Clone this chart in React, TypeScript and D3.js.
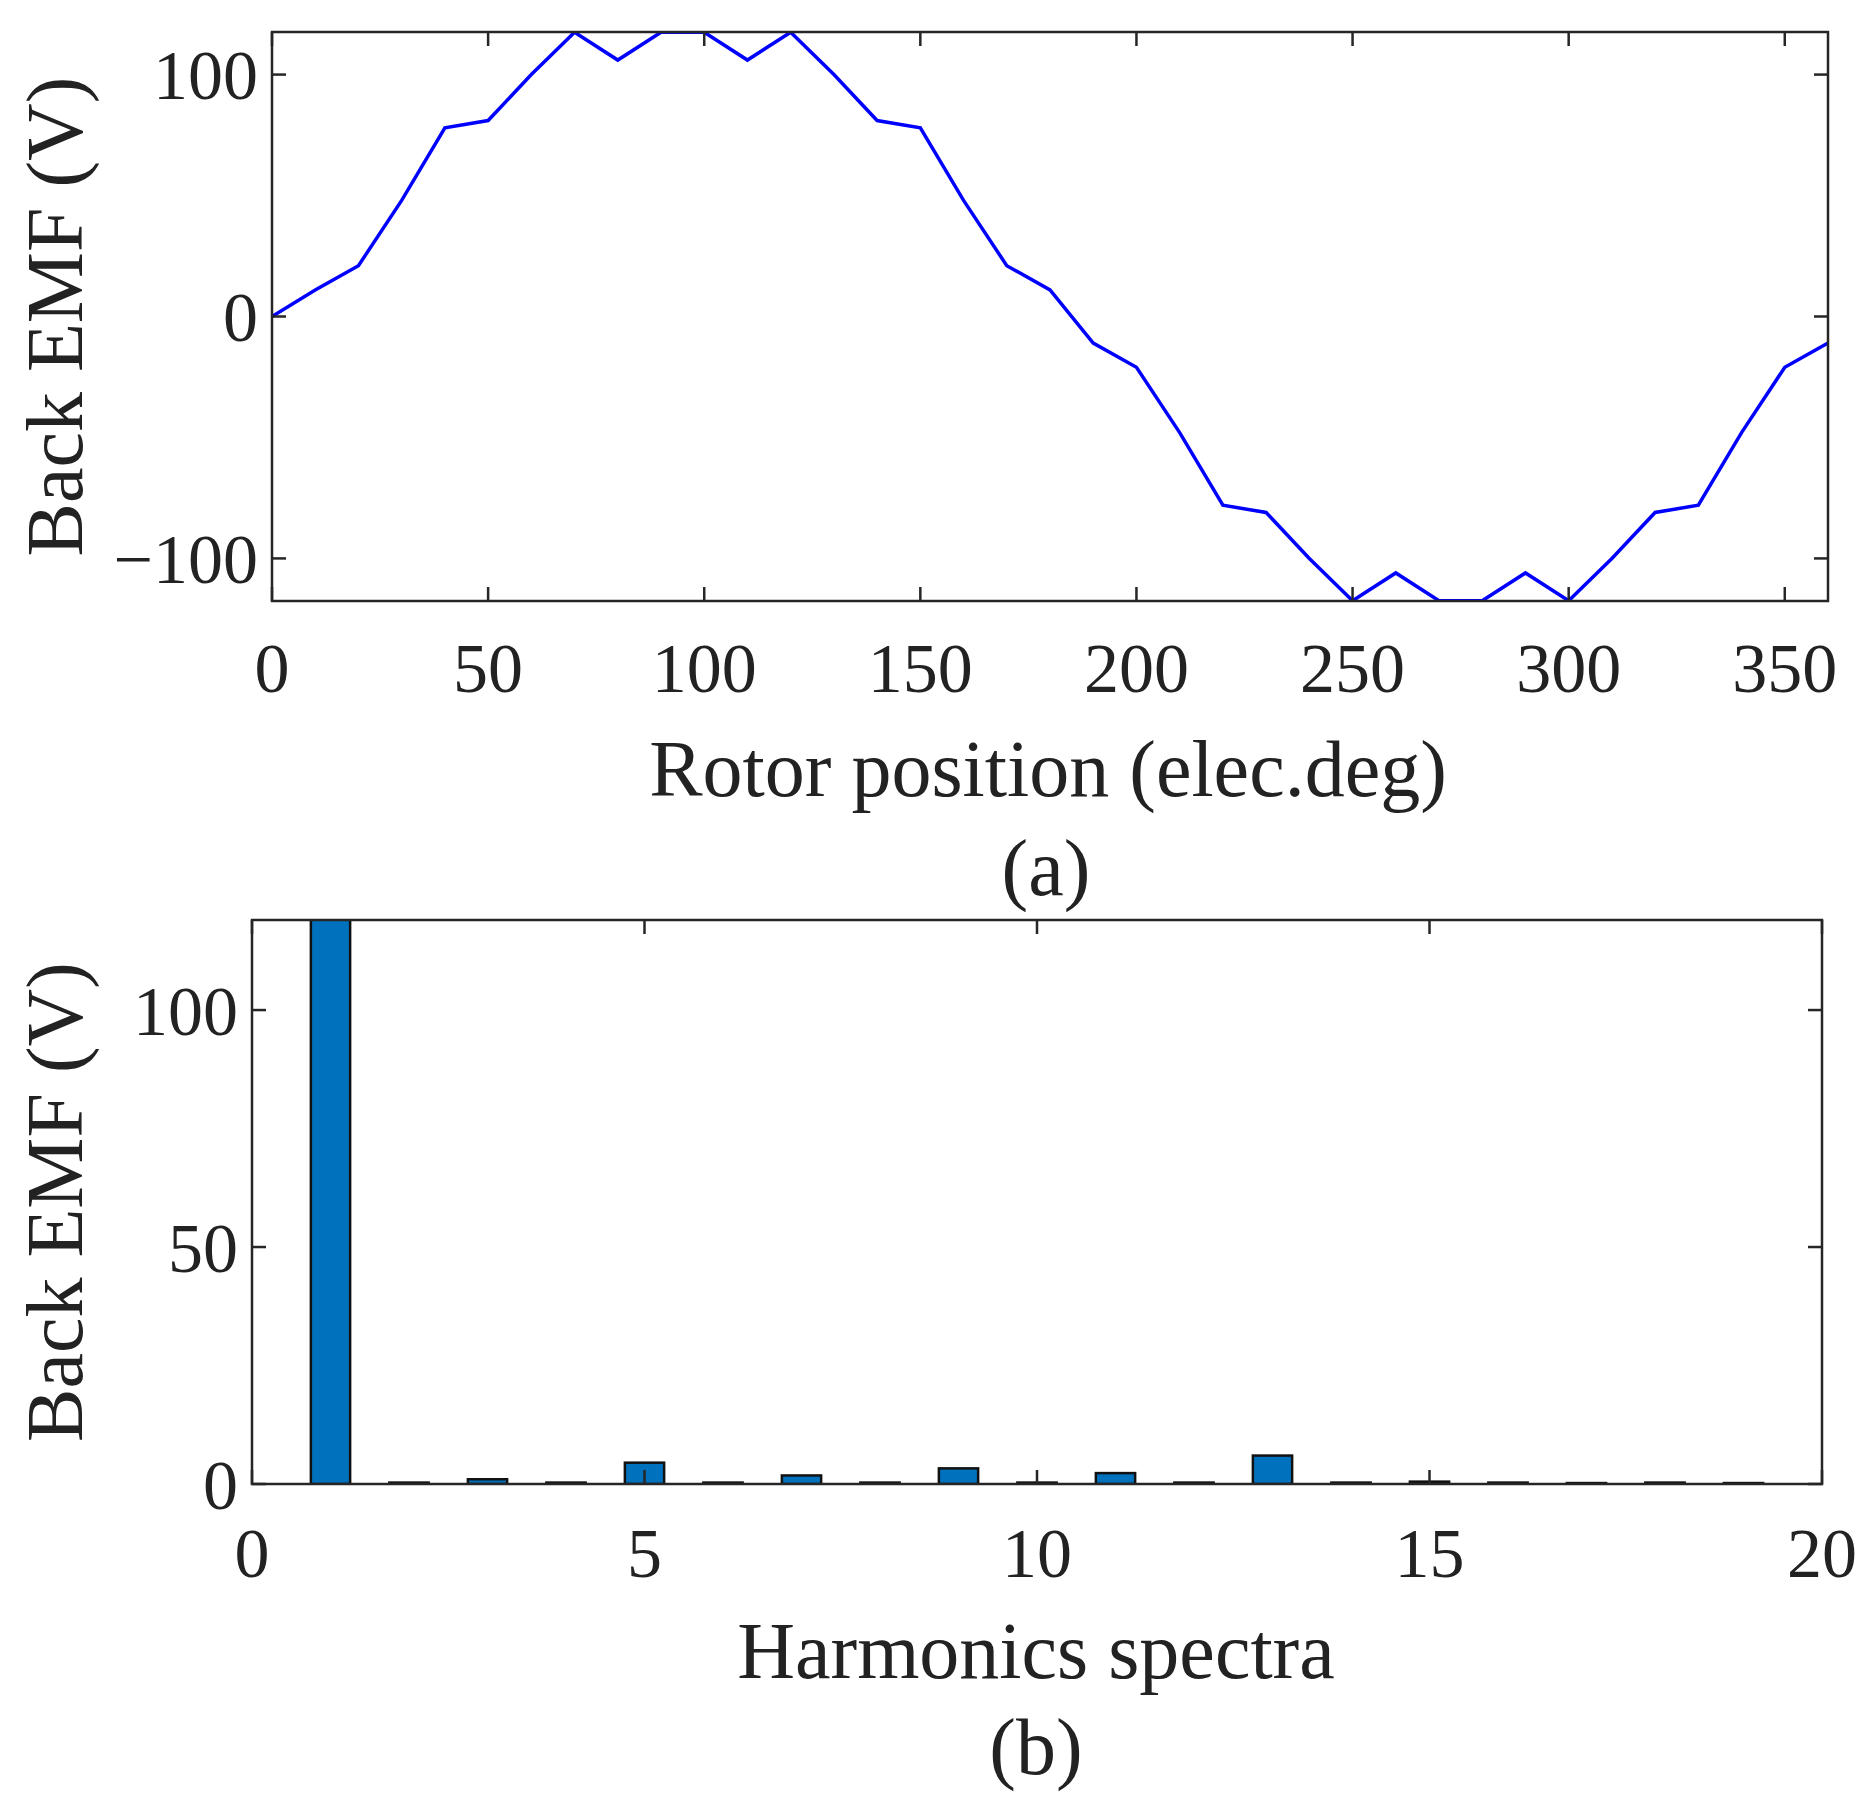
import * as d3 from "d3";

const positions = d3.range(0, 361, 10);
const emfValues = [
  0, 11, 21, 48, 78, 81, 100, 117.5, 106, 117.5, 117.5, 106, 117.5, 100, 81, 78, 48, 21, 11,
  -11, -21, -48, -78, -81, -100, -117.5, -106, -117.5, -117.5, -106, -117.5, -100, -81, -78, -48, -21, -11,
];
const harmonics = d3.range(1, 20);
const harmonicValues = [125, 0.3, 1, 0.3, 4.5, 0.3, 1.8, 0.3, 3.3, 0.3, 2.3, 0.3, 6, 0.3, 0.5, 0.3, 0.2, 0.3, 0.2];
const topXTicks = [0, 50, 100, 150, 200, 250, 300, 350];
const topYTicks = [-100, 0, 100];
const botXTicks = [0, 5, 10, 15, 20];
const botYTicks = [0, 50, 100];

const FONT = "'Liberation Serif', 'Times New Roman', serif";
const TICK_FS = 70;
const LABEL_FS = 80;
const TICK_LEN = 14;
const TEXT = "#222";

const TOP = { left: 272, right: 1828, top: 32, bottom: 601 };
const BOT = { left: 252, right: 1822, top: 920, bottom: 1484 };

function Frame({ box }: { box: typeof TOP }) {
  return (
    <rect
      x={box.left}
      y={box.top}
      width={box.right - box.left}
      height={box.bottom - box.top}
      fill="none"
      stroke="#262626"
      strokeWidth={2.5}
    />
  );
}

export default function App() {
  const x1 = d3.scaleLinear().domain([0, 360]).range([TOP.left, TOP.right]);
  const y1 = d3.scaleLinear().domain([-117.6, 117.6]).range([TOP.bottom, TOP.top]);
  const x2 = d3.scaleLinear().domain([0, 20]).range([BOT.left, BOT.right]);
  const y2 = d3.scaleLinear().domain([0, 119]).range([BOT.bottom, BOT.top]);

  const line = d3
    .line<number>()
    .x((_, i) => x1(positions[i]))
    .y((d) => y1(d));

  const barW = x2(0.5) - x2(0);

  return (
    <svg
      width={1861}
      height={1794}
      style={{ position: "absolute", left: 0, top: 0, background: "#fff" }}
      fontFamily={FONT}
    >
      <defs>
        <clipPath id="clipA">
          <rect x={TOP.left} y={TOP.top} width={TOP.right - TOP.left} height={TOP.bottom - TOP.top} />
        </clipPath>
        <clipPath id="clipB">
          <rect x={BOT.left} y={BOT.top} width={BOT.right - BOT.left} height={BOT.bottom - BOT.top} />
        </clipPath>
      </defs>

      {/* (a) back EMF waveform */}
      <path d={line(emfValues) ?? undefined} fill="none" stroke="#0000ff" strokeWidth={3.5} clipPath="url(#clipA)" />
      <Frame box={TOP} />
      {topXTicks.map((t) => (
        <g key={t}>
          <line x1={x1(t)} x2={x1(t)} y1={TOP.bottom} y2={TOP.bottom - TICK_LEN} stroke="#262626" strokeWidth={2.5} />
          <line x1={x1(t)} x2={x1(t)} y1={TOP.top} y2={TOP.top + TICK_LEN} stroke="#262626" strokeWidth={2.5} />
          <text x={x1(t)} y={692} fontSize={TICK_FS} textAnchor="middle" fill={TEXT}>{t}</text>
        </g>
      ))}
      {topYTicks.map((t) => (
        <g key={t}>
          <line x1={TOP.left} x2={TOP.left + TICK_LEN} y1={y1(t)} y2={y1(t)} stroke="#262626" strokeWidth={2.5} />
          <line x1={TOP.right} x2={TOP.right - TICK_LEN} y1={y1(t)} y2={y1(t)} stroke="#262626" strokeWidth={2.5} />
          <text x={TOP.left - 14} y={y1(t)} dy="0.35em" fontSize={TICK_FS} textAnchor="end" fill={TEXT}>
            {t < 0 ? `\u2212${-t}` : t}
          </text>
        </g>
      ))}
      <text x={1048} y={796} fontSize={LABEL_FS} textAnchor="middle" fill={TEXT}>Rotor position (elec.deg)</text>
      <text transform={`translate(82,${(TOP.top + TOP.bottom) / 2}) rotate(-90)`} fontSize={LABEL_FS} textAnchor="middle" fill={TEXT}>
        Back EMF (V)
      </text>
      <text x={1046} y={895} fontSize={LABEL_FS} textAnchor="middle" fill={TEXT}>(a)</text>

      {/* (b) harmonic spectrum */}
      <g clipPath="url(#clipB)">
        {harmonics.map((h, i) => (
          <rect
            key={h}
            x={x2(h) - barW / 2}
            y={y2(harmonicValues[i])}
            width={barW}
            height={y2(0) - y2(harmonicValues[i])}
            fill="#0072BD"
            stroke="#111"
            strokeWidth={2.5}
          />
        ))}
      </g>
      <Frame box={BOT} />
      {botXTicks.map((t) => (
        <g key={t}>
          <line x1={x2(t)} x2={x2(t)} y1={BOT.bottom} y2={BOT.bottom - TICK_LEN} stroke="#262626" strokeWidth={2.5} />
          <line x1={x2(t)} x2={x2(t)} y1={BOT.top} y2={BOT.top + TICK_LEN} stroke="#262626" strokeWidth={2.5} />
          <text x={x2(t)} y={1577} fontSize={TICK_FS} textAnchor="middle" fill={TEXT}>{t}</text>
        </g>
      ))}
      {botYTicks.map((t) => (
        <g key={t}>
          <line x1={BOT.left} x2={BOT.left + TICK_LEN} y1={y2(t)} y2={y2(t)} stroke="#262626" strokeWidth={2.5} />
          <line x1={BOT.right} x2={BOT.right - TICK_LEN} y1={y2(t)} y2={y2(t)} stroke="#262626" strokeWidth={2.5} />
          <text x={BOT.left - 14} y={y2(t)} dy="0.35em" fontSize={TICK_FS} textAnchor="end" fill={TEXT}>{t}</text>
        </g>
      ))}
      <text x={1036} y={1678} fontSize={LABEL_FS} textAnchor="middle" fill={TEXT}>Harmonics spectra</text>
      <text transform={`translate(82,${(BOT.top + BOT.bottom) / 2}) rotate(-90)`} fontSize={LABEL_FS} textAnchor="middle" fill={TEXT}>
        Back EMF (V)
      </text>
      <text x={1036} y={1774} fontSize={LABEL_FS} textAnchor="middle" fill={TEXT}>(b)</text>
    </svg>
  );
}
